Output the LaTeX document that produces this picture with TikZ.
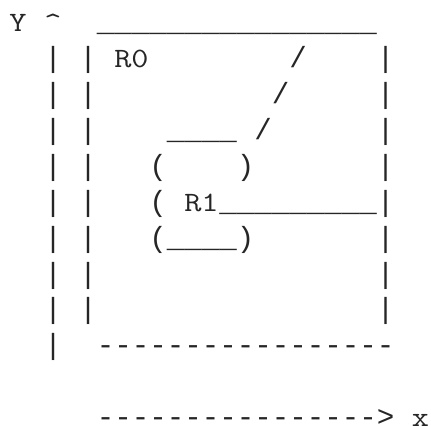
\documentclass[tikz,border=0pt]{standalone}
\usepackage{fontspec}
\newfontfamily\asciimono{Liberation Mono}
% one monospace cell: 13.125pt wide, rows 26.9pt apart
\tikzset{
  glyphs/.style={anchor=base west, inner sep=0pt, outer sep=0pt, text depth=0pt,
    font=\asciimono\fontsize{21.875}{26}\selectfont, text=black!85},
  letters/.style={glyphs, font=\ttfamily\fontsize{21}{26}\selectfont},
}
% typewriter letters widened to fill the same cell width
\newcommand\wide[1]{\scalebox{1.1905}[1]{#1}}
% \cell[style]{name}{column}{row}{text}
\newcommand\cell[5][glyphs]{\node[#1] (#2) at ({6.9375pt+13.125pt*#3},{-24pt-26.9pt*#4}) {#5};}
\begin{document}
\begin{tikzpicture}
\useasboundingbox (0,0) rectangle (323.25pt,-320.25pt);
% y axis label and arrow head
\cell[letters]{ylabel}{0}{0}{\wide{Y}}
\cell[letters]{yhead}{2}{0}{\wide{\textasciicircum}}
% top edge of region R0
\cell{r0top}{5}{0}{\_\_\_\_\_\_\_\_\_\_\_\_\_\_\_\_}
% y axis shaft
\foreach \r in {1,...,9}{\cell{yaxis-\r}{2}{\r}{|}}
% left and right edges of R0
\foreach \r in {1,...,8}{\cell{r0left-\r}{4}{\r}{|}\cell{r0right-\r}{21}{\r}{|}}
\cell[letters]{r0label}{6}{1}{\wide{R0}}
% diagonal boundary
\cell{diag-1}{16}{1}{/}
\cell{diag-2}{15}{2}{/}
\cell{diag-3}{14}{3}{/}
% region R1
\cell{r1top}{9}{3}{\_\_\_\_}
\cell{r1left-4}{8}{4}{(}
\cell{r1right-4}{13}{4}{)}
\cell{r1left-5}{8}{5}{(}
\cell[letters]{r1label}{10}{5}{\wide{R1}}
\cell{r1link}{12}{5}{\_\_\_\_\_\_\_\_\_}
\cell{r1bottom}{8}{6}{(\_\_\_\_)}
% bottom edge of R0
\cell{r0bottom}{5}{9}{-----------------}
% x axis
\cell{xaxis}{5}{11}{---------------->}
\cell[letters]{xlabel}{23}{11}{\wide{x}}
\end{tikzpicture}
\end{document}
